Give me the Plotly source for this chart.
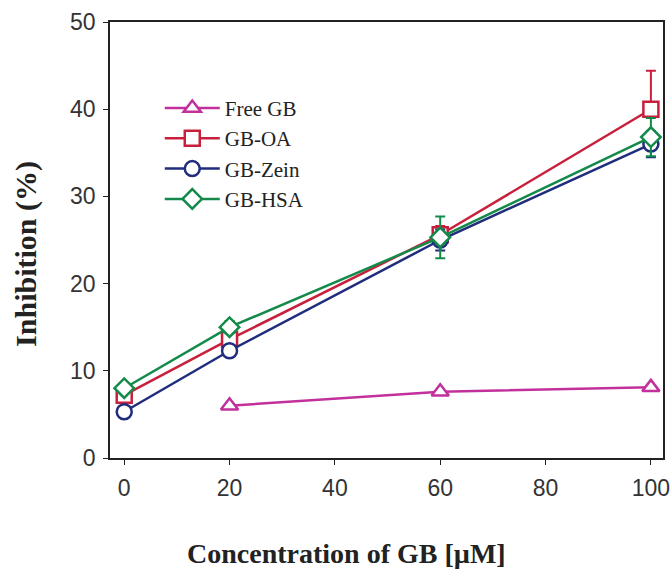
import plotly.graph_objects as go

x_free = [20, 60, 100]
free_gb = [6.0, 7.6, 8.1]

x_all = [0, 20, 60, 100]
gb_oa = [7.2, 13.6, 25.6, 40.0]
gb_oa_err_plus = [0.5, 0.5, 1.0, 4.4]
gb_oa_err_minus = [0.5, 0.5, 1.0, 0.5]
gb_zein = [5.3, 12.3, 25.0, 36.0]
gb_zein_err = [0.6, 0.6, 1.2, 1.5]
gb_hsa = [8.0, 15.0, 25.3, 36.8]
gb_hsa_err = [0.6, 0.7, 2.4, 2.2]

x_ticks = [0, 20, 40, 60, 80, 100]
y_ticks = [0, 10, 20, 30, 40, 50]

x_title = "<b>Concentration of GB [µM]</b>"
y_title = "<b>Inhibition (%)</b>"

c_free = "#c2309c"
c_oa = "#c8203c"
c_zein = "#1f2d7c"
c_hsa = "#138a4a"

serif = "Liberation Serif, Times New Roman, serif"

fig = go.Figure()

def add(name, xs, ys, color, symbol, err=None, errm=None):
    eb = None
    if err is not None:
        eb = dict(type="data", array=err, arrayminus=errm if errm is not None else err,
                  visible=True, color=color, thickness=2, width=5)
    fig.add_trace(go.Scatter(
        x=xs, y=ys, name=name, mode="lines+markers",
        line=dict(color=color, width=2.5),
        marker=dict(symbol=symbol, size=15, color="white",
                    line=dict(color=color, width=2.5)),
        error_y=eb,
    ))

add("Free GB", x_free, free_gb, c_free, "triangle-up")
add("GB-OA", x_all, gb_oa, c_oa, "square", gb_oa_err_plus, gb_oa_err_minus)
add("GB-Zein", x_all, gb_zein, c_zein, "circle", gb_zein_err)
add("GB-HSA", x_all, gb_hsa, c_hsa, "diamond", gb_hsa_err)

axis_common = dict(showline=True, linecolor="#222", linewidth=1.5, mirror=True,
                   showgrid=False, zeroline=False, ticks="outside", ticklen=5,
                   tickcolor="#222", automargin=False,
                   tickfont=dict(family="Liberation Sans, Arial", size=23, color="#333"))

fig.update_layout(
    width=672, height=571,
    margin=dict(l=110, r=9, t=22, b=113),
    paper_bgcolor="white", plot_bgcolor="white",
    showlegend=True,
    legend=dict(x=0.09, y=0.849, xanchor="left", yanchor="top",
                bgcolor="rgba(0,0,0,0)",
                font=dict(family=serif, size=21, color="#222"),
                tracegroupgap=0, itemwidth=55),
    xaxis=dict(range=[-2.7, 102.3], tickvals=x_ticks, ticklabelstandoff=4,
               **axis_common),
    yaxis=dict(range=[0, 50], tickvals=y_ticks, ticklabelstandoff=3,
               **axis_common),
    annotations=[
        dict(text=x_title, xref="paper", yref="paper", x=0.4268, y=-0.218,
             xanchor="center", yanchor="middle", showarrow=False,
             font=dict(family=serif, size=28, color="#222")),
        dict(text=y_title, xref="paper", yref="paper", x=-0.152, y=0.468,
             xanchor="center", yanchor="middle", showarrow=False, textangle=-90,
             font=dict(family=serif, size=30, color="#222")),
    ],
)

fig.write_html("out.html", config={"displayModeBar": False},
               post_script="document.body.style.margin='0';")
